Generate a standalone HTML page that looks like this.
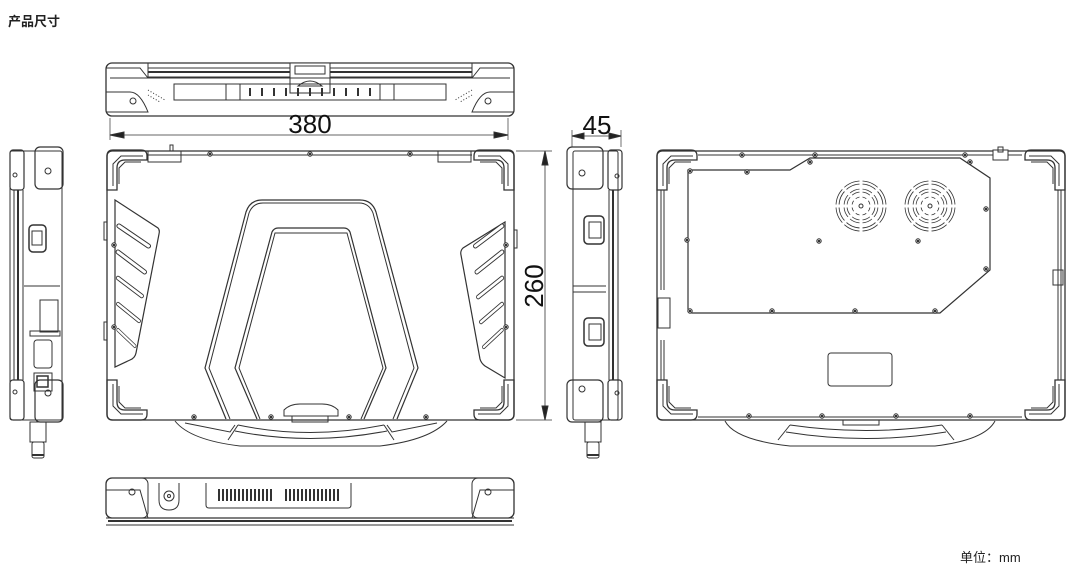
<!DOCTYPE html>
<html><head><meta charset="utf-8"><style>
html,body{margin:0;padding:0;background:#fff;width:1072px;height:569px;overflow:hidden}
.t{position:absolute;font-family:"Liberation Sans","Noto Sans CJK SC",sans-serif;color:#222}
</style></head><body>
<div class="t" style="left:8px;top:11px;font-size:13px;font-weight:bold">产品尺寸</div>
<div class="t" style="left:960px;top:547px;font-size:13px">单位：mm</div>
<svg width="1072" height="569" style="position:absolute;left:0;top:0" fill="none" stroke="#333" stroke-width="1" font-family="Liberation Sans, sans-serif">
<defs>
<g id="scr"><circle r="2.2" fill="#fff"/><circle r="0.8" fill="#333"/></g>
<g id="corner"><path d="M0,40 V6 Q0,0 6,0 H34 Q40,0 40,6 V10 H18 Q10,10 10,18 V40 Z" stroke-width="1.3"/><path d="M6,36 V14 L14,6 H36" /><path d="M12,34 V18 L18,12 H34"/></g>
<g id="fan"><circle r="25" stroke-width="0.8"/><circle r="22" stroke-width="0.8"/><circle r="17" stroke-width="0.8"/><circle r="14" stroke-width="0.8"/><circle r="9" stroke-width="0.8"/><path d="M0,-26 V26 M-26,0 H26 M-19,-19 L19,19 M19,-19 L-19,19" stroke="#fff" stroke-width="3"/><circle r="2" /></g>
<g id="slot"><line x1="0" y1="0" x2="28" y2="20" stroke-width="5" stroke-linecap="round"/><line x1="0" y1="0" x2="28" y2="20" stroke-width="3" stroke="#fff" stroke-linecap="round"/></g>
</defs>

<!-- TOP VIEW -->
<rect x="106" y="63" width="408" height="53" rx="6" stroke-width="1.3"/>
<rect x="148" y="63" width="324" height="14"/>
<line x1="148" y1="68" x2="472" y2="68"/><line x1="148" y1="72" x2="472" y2="72" stroke-width="2"/>
<rect x="290" y="63" width="40" height="30" fill="#fff"/><rect x="295" y="66" width="30" height="8"/>
<path d="M298,86 Q310,76 322,86 Z"/>
<line x1="110" y1="78" x2="510" y2="78"/>
<rect x="174" y="84" width="272" height="16"/>
<rect x="226" y="84" width="14" height="16"/><rect x="380" y="84" width="14" height="16"/>
<g stroke-width="2"><line x1="250" y1="88" x2="250" y2="96"/><line x1="262" y1="88" x2="262" y2="96"/><line x1="274" y1="88" x2="274" y2="96"/><line x1="286" y1="88" x2="286" y2="96"/><line x1="298" y1="88" x2="298" y2="96"/><line x1="310" y1="88" x2="310" y2="96"/><line x1="322" y1="88" x2="322" y2="96"/><line x1="334" y1="88" x2="334" y2="96"/><line x1="346" y1="88" x2="346" y2="96"/><line x1="358" y1="88" x2="358" y2="96"/><line x1="370" y1="88" x2="370" y2="96"/></g>
<path d="M106,92 H130 Q140,92 148,112 H106" /><path d="M514,92 H490 Q480,92 472,112 H514"/>
<circle cx="133" cy="101" r="3"/><circle cx="488" cy="101" r="3"/>
<path d="M106,68 H140 L148,78 M514,68 H480 L472,78"/>
<g stroke-dasharray="1 2"><line x1="148" y1="90" x2="165" y2="100"/><line x1="148" y1="95" x2="160" y2="102"/><line x1="472" y1="90" x2="455" y2="100"/><line x1="472" y1="95" x2="460" y2="102"/></g>

<!-- dim 380 -->
<line x1="110" y1="118" x2="110" y2="140" stroke-width="0.7"/><line x1="508" y1="118" x2="508" y2="140" stroke-width="0.7"/>
<line x1="112" y1="135" x2="506" y2="135" stroke-width="0.8"/>
<path d="M110,135 l14,-3 v6 z M508,135 l-14,-3 v6 z" fill="#222"/>
<text x="310" y="133" font-size="26" fill="#111" stroke="none" text-anchor="middle">380</text>

<!-- FRONT (LID) VIEW -->
<rect x="107" y="151" width="407" height="269" rx="5" stroke-width="1.3"/>
<line x1="148" y1="155" x2="472" y2="155"/>
<rect x="148" y="151" width="33" height="11"/><rect x="438" y="151" width="33" height="11"/>
<rect x="170" y="145" width="3" height="6"/>
<use href="#corner" x="107" y="150"/>
<use href="#corner" transform="translate(514,150) scale(-1,1)"/>
<use href="#corner" transform="translate(107,420) scale(1,-1)"/>
<use href="#corner" transform="translate(514,420) scale(-1,-1)"/>
<path d="M115,200 L158,228 Q160,230 159,234 L136,353 Q135,358 130,360 L115,367 Z" stroke-width="1.2"/>
<path d="M505,222 L463,248 Q460,251 461,255 L480,359 Q481,363 485,366 L505,378 Z" stroke-width="1.2"/>
<use href="#slot" transform="translate(119,226) scale(1.05,1)"/>
<use href="#slot" transform="translate(118,252) scale(0.95,1)"/>
<use href="#slot" transform="translate(118,278) scale(0.85,0.9)"/>
<use href="#slot" transform="translate(118,304) scale(0.75,0.85)"/>
<use href="#slot" transform="translate(118,330) scale(0.6,0.8)"/>
<use href="#slot" transform="translate(502,226) scale(-0.95,1)"/>
<use href="#slot" transform="translate(502,252) scale(-0.9,1)"/>
<use href="#slot" transform="translate(502,278) scale(-0.85,0.95)"/>
<use href="#slot" transform="translate(502,304) scale(-0.75,0.9)"/>
<use href="#slot" transform="translate(502,330) scale(-0.65,0.85)"/>
<path d="M226,419 L205,368 L246,212 Q250,200 262,200 H360 Q372,200 376,212 L418,368 L397,419" stroke-width="1.2"/>
<path d="M230,419 L209,368 L249,213 Q253,203 263,203 H359 Q369,203 373,213 L414,368 L393,419"/>
<path d="M257,419 L235,368 L272,232 Q274,228 278,228 H344 Q348,228 350,232 L386,368 L364,419" stroke-width="1.2"/>
<path d="M260,419 L239,368 L275,233 H347 L383,368 L361,419"/>
<path d="M284,416 V410 Q290,404 300,404 H322 Q332,404 338,410 V416 Z" fill="#fff"/>
<rect x="292" y="416" width="36" height="6"/>
<path d="M175,421 Q190,440 240,446 H380 Q430,440 447,421"/>
<path d="M185,423 L230,432 L235,425 M437,423 L392,432 L387,425"/>
<path d="M238,425 L228,440 M384,425 L394,440 M238,425 Q310,440 384,425 M235,431 Q310,446 387,431"/>
<g>
<use href="#scr" x="210" y="154"/><use href="#scr" x="310" y="154"/><use href="#scr" x="410" y="154"/>
<use href="#scr" x="194" y="417"/><use href="#scr" x="271" y="417"/><use href="#scr" x="349" y="417"/><use href="#scr" x="426" y="417"/>
<use href="#scr" x="114" y="245"/><use href="#scr" x="114" y="327"/><use href="#scr" x="506" y="245"/><use href="#scr" x="506" y="327"/>
</g>
<rect x="104" y="222" width="3" height="18"/><rect x="104" y="322" width="3" height="18"/><rect x="514" y="230" width="3" height="18"/>

<!-- dim 260 -->
<line x1="516" y1="151" x2="552" y2="151" stroke-width="0.7"/><line x1="516" y1="420" x2="552" y2="420" stroke-width="0.7"/>
<line x1="545" y1="153" x2="545" y2="418" stroke-width="0.8"/>
<path d="M545,151 l-3,14 h6 z M545,420 l-3,-14 h6 z" fill="#222"/>
<text transform="translate(543,286) rotate(-90)" font-size="26" fill="#111" stroke="none" text-anchor="middle">260</text>

<!-- dim 45 -->
<line x1="572" y1="130" x2="572" y2="147" stroke-width="0.7"/><line x1="621" y1="130" x2="621" y2="147" stroke-width="0.7"/>
<line x1="572" y1="136" x2="621" y2="136" stroke-width="0.8"/>
<path d="M572,136 l12,-3 v6 z M621,136 l-12,-3 v6 z" fill="#222"/>
<text x="597" y="134" font-size="26" fill="#111" stroke="none" text-anchor="middle">45</text>

<!-- RIGHT SIDE VIEW -->
<rect x="573" y="151" width="45" height="269" rx="2"/>
<rect x="567" y="147" width="36" height="42" rx="5" stroke-width="1.2"/><rect x="608" y="150" width="14" height="40" rx="3" stroke-width="1.2"/>
<rect x="567" y="380" width="36" height="42" rx="5" stroke-width="1.2"/><rect x="608" y="380" width="14" height="40" rx="3" stroke-width="1.2"/>
<circle cx="582" cy="173" r="3"/><circle cx="582" cy="389" r="3"/><circle cx="617" cy="176" r="2"/><circle cx="617" cy="393" r="2"/>
<line x1="609" y1="190" x2="609" y2="380"/><line x1="613" y1="190" x2="613" y2="380" stroke-width="2"/><line x1="618" y1="190" x2="618" y2="380"/>
<line x1="573" y1="286" x2="606" y2="286"/><line x1="573" y1="292" x2="606" y2="292"/>
<rect x="584" y="216" width="20" height="28" rx="4" stroke-width="1.5"/><rect x="589" y="222" width="12" height="16"/>
<rect x="584" y="318" width="20" height="28" rx="4" stroke-width="1.5"/><rect x="589" y="324" width="12" height="16"/>
<rect x="585" y="422" width="16" height="20"/><rect x="587" y="442" width="12" height="16" rx="2"/><line x1="587" y1="455" x2="599" y2="455" stroke-width="2"/>

<!-- LEFT SIDE VIEW -->
<rect x="10" y="151" width="52" height="269" rx="2"/>
<rect x="10" y="150" width="14" height="40" rx="3" stroke-width="1.2"/><rect x="35" y="147" width="28" height="42" rx="5" stroke-width="1.2"/>
<rect x="10" y="380" width="14" height="40" rx="3" stroke-width="1.2"/><rect x="35" y="380" width="28" height="42" rx="5" stroke-width="1.2"/>
<circle cx="48" cy="171" r="3"/><circle cx="48" cy="393" r="3"/><circle cx="15" cy="175" r="2"/><circle cx="15" cy="392" r="2"/>
<line x1="14" y1="190" x2="14" y2="380"/><line x1="18" y1="190" x2="18" y2="380" stroke-width="2"/><line x1="23" y1="190" x2="23" y2="380"/>
<line x1="24" y1="286" x2="60" y2="286"/>
<rect x="29" y="225" width="17" height="27" rx="4" stroke-width="1.5"/><rect x="32" y="231" width="10" height="14"/>
<rect x="40" y="300" width="18" height="32"/>
<path d="M30,331 H60 V336 H30 Z"/>
<rect x="34" y="340" width="18" height="28" rx="3"/>
<rect x="34" y="373" width="18" height="18"/><rect x="37" y="376" width="11" height="11" stroke-width="1.5"/>
<rect x="30" y="422" width="16" height="20"/><rect x="32" y="442" width="12" height="16" rx="2"/><line x1="32" y1="455" x2="44" y2="455" stroke-width="2"/>

<!-- BACK VIEW -->
<rect x="657" y="151" width="408" height="269" rx="5" stroke-width="1.3"/>
<line x1="698" y1="155" x2="1022" y2="155"/><line x1="698" y1="417" x2="1022" y2="417"/>
<use href="#corner" x="657" y="150"/>
<use href="#corner" transform="translate(1065,150) scale(-1,1)"/>
<use href="#corner" transform="translate(657,420) scale(1,-1)"/>
<use href="#corner" transform="translate(1065,420) scale(-1,-1)"/>
<path d="M688,170 H790 L810,158 H960 L990,178 V270 L940,313 H692 Q688,313 688,309 Z" stroke-width="1.2"/>
<path d="M661,190 V290 M664,190 V290 M661,340 V380 M664,340 V380 M1058,190 V380 M1061,190 V380"/>
<rect x="658" y="298" width="12" height="30"/><rect x="1053" y="270" width="10" height="15"/>
<rect x="993" y="150" width="15" height="10" fill="#fff"/><rect x="998" y="147" width="5" height="5"/>
<use href="#fan" x="861" y="206"/><use href="#fan" x="930" y="206"/>
<rect x="828" y="353" width="64" height="33" rx="3"/>
<path d="M725,421 Q735,440 790,446 H935 Q985,440 995,421"/>
<path d="M790,425 L778,440 M942,425 L954,440 M790,425 Q866,436 942,425 M786,432 Q866,445 946,432"/>
<rect x="843" y="420" width="36" height="5"/>
<g>
<use href="#scr" x="742" y="155"/><use href="#scr" x="815" y="155"/><use href="#scr" x="965" y="155"/><use href="#scr" x="810" y="162"/><use href="#scr" x="970" y="162"/>
<use href="#scr" x="690" y="171"/><use href="#scr" x="747" y="172"/><use href="#scr" x="687" y="240"/><use href="#scr" x="819" y="241"/><use href="#scr" x="918" y="241"/>
<use href="#scr" x="986" y="209"/><use href="#scr" x="986" y="269"/><use href="#scr" x="690" y="311"/><use href="#scr" x="772" y="311"/><use href="#scr" x="855" y="311"/><use href="#scr" x="935" y="311"/>
<use href="#scr" x="749" y="416"/><use href="#scr" x="822" y="416"/><use href="#scr" x="896" y="416"/><use href="#scr" x="970" y="416"/>
</g>

<!-- BOTTOM VIEW -->
<rect x="106" y="478" width="408" height="40" rx="6" stroke-width="1.3"/>
<path d="M106,490 H140 L148,518 M514,490 H480 L472,518"/>
<rect x="106" y="478" width="42" height="40" rx="6"/><rect x="472" y="478" width="42" height="40" rx="6"/>
<circle cx="132" cy="492" r="3"/><circle cx="488" cy="492" r="3"/>
<path d="M159,483 V500 Q159,510 169,510 Q179,510 179,500 V483"/><circle cx="169" cy="496" r="5"/><circle cx="169" cy="496" r="1.5"/>
<path d="M206,483 V505 Q206,508 209,508 H348 Q351,508 351,505 V483"/>
<g stroke-width="2"><path d="M219,489 V501 M223,489 V501 M227,489 V501 M231,489 V501 M235,489 V501 M239,489 V501 M243,489 V501 M247,489 V501 M251,489 V501 M255,489 V501 M259,489 V501 M263,489 V501 M267,489 V501 M271,489 V501 M286,489 V501 M290,489 V501 M294,489 V501 M298,489 V501 M302,489 V501 M306,489 V501 M310,489 V501 M314,489 V501 M318,489 V501 M322,489 V501 M326,489 V501 M330,489 V501 M334,489 V501 M338,489 V501"/></g>
<line x1="106" y1="518" x2="514" y2="518"/><line x1="108" y1="521" x2="512" y2="521" stroke-width="2"/>
<line x1="106" y1="525" x2="514" y2="525"/>
</svg>
</body></html>
